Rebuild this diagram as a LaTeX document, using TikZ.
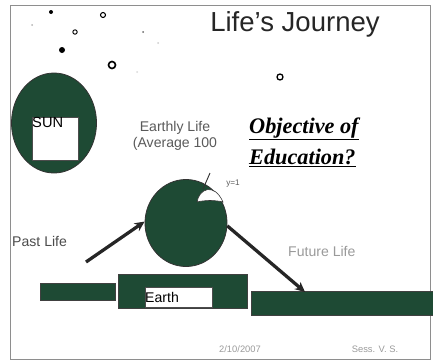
\documentclass[tikz,border=0pt]{standalone}
\usepackage{fontspec}
\setmainfont{Liberation Serif}
\setsansfont{Liberation Sans}
\usetikzlibrary{arrows.meta,positioning,shapes.geometric}
\definecolor{forest}{HTML}{1E4A34}
\definecolor{frameline}{HTML}{8E8E8E}
\definecolor{softgray}{HTML}{5A5A5A}
\definecolor{paletext}{HTML}{9A9A9A}
\newcommand\px{0.03cm}
\tikzset{
  bar/.style={rectangle, draw=black!75, line width=0.6pt, fill=forest, inner sep=0pt, anchor=north west},
  whitebox/.style={rectangle, draw=black!70, line width=0.5pt, fill=white, inner sep=0pt, anchor=north west},
  orb/.style={ellipse, draw=black!80, line width=0.7pt, fill=forest, inner sep=0pt},
  caption/.style={font=\sffamily\fontsize{12}{13.5}\selectfont, inner sep=0pt, align=center},
  bigarrow/.style={-{Stealth[length=3mm,width=2.8mm]}, line width=2.8pt, draw=black!85},
  star/.style={draw=black, line width=1.1pt, fill=white},
  dot/.style={fill=black},
}
\begin{document}
\begin{tikzpicture}[x=\px,y=-\px]
  \useasboundingbox (0,0) rectangle (433,363);
  % slide frame
  \draw[frameline,line width=0.6pt] (10,5) rectangle (430,359);
  % title
  \node[font=\sffamily\fontsize{23.5}{26}\selectfont,anchor=base,text=black!85,inner sep=0pt](title) at (295,31){Life's Journey};
  % stars
  \fill[dot] (51,12) circle (2);
  \draw[star,line width=0.9pt] (103,15) circle (2.5);
  \fill[black!30] (32,25) circle (1);
  \draw[star,line width=0.8pt] (75,32) circle (2.2);
  \fill[black!60] (143,32) circle (1);
  \fill[black!20] (158,43) circle (1);
  \fill[dot] (62,50) circle (3);
  \draw[star,line width=1.4pt] (112,65) circle (3.5);
  \fill[black!15] (137,72) circle (1);
  \draw[star] (280,77) circle (3);
  % sun
  \node[orb,minimum width=85*\px,minimum height=100*\px](sun) at (54,123){};
  \node[whitebox,minimum width=46*\px,minimum height=43*\px,
        label={[anchor=north west,inner sep=0pt,font=\sffamily\fontsize{12.5}{14}\selectfont]north west:SUN}](sunbox) at (32,117){};
  % earthly life
  \node[caption,text=softgray,anchor=base](earthly) at (175,147){Earthly Life\\(Average 100};
  % objective
  \node[font=\fontsize{19}{22}\selectfont\bfseries\itshape,anchor=base west,inner sep=0pt](obj) at (249,133){\underline{Objective of}};
  \node[font=\fontsize{19}{22}\selectfont\bfseries\itshape,anchor=base west,inner sep=0pt](edu) at (249,164){\underline{Education?}};
  % earth globe
  \node[orb,minimum width=82*\px,minimum height=87*\px](earth) at (186,223){};
  \filldraw[fill=white,draw=black!80,line width=0.5pt] (197,202) .. controls (199,189) and (214,182) .. (223,202) .. controls (215,200) and (205,200) .. cycle;
  \coordinate (tickA) at (210,173);
  \coordinate (tickB) at (203,189);
  \draw[black!80,line width=0.8pt] (tickA) -- (tickB);
  \node[font=\sffamily\fontsize{7}{8}\selectfont,text=softgray,inner sep=0pt](yone) at (233,184){y=1};
  % side labels
  \node[caption,text=black!70,anchor=base west](past) at (12,246){Past Life};
  \node[caption,text=paletext,anchor=base west](future) at (288,256){Future Life};
  % ground bars
  \node[bar,minimum width=75*\px,minimum height=17*\px](pastbar) at (40,283){};
  \node[bar,minimum width=129*\px,minimum height=34*\px](earthbar) at (118,274){};
  \node[whitebox,minimum width=67*\px,minimum height=20*\px,
        label={[anchor=west,inner sep=0pt,font=\sffamily\fontsize{12}{14}\selectfont]west:Earth}](earthtag) at (145,287){};
  \node[bar,minimum width=182*\px,minimum height=24*\px](futurebar) at (251,291){};
  % journey arrows
  \coordinate (pastTail) at (86,262);
  \coordinate (futureTip) at (305,292);
  \draw[bigarrow] (pastTail) -- (earth.178);
  \draw[bigarrow] (earth.-4) -- (futureTip);
  % footer
  \node[font=\sffamily\fontsize{8}{9}\selectfont,text=paletext,anchor=base](date) at (240,352){2/10/2007};
  \node[font=\sffamily\fontsize{8}{9}\selectfont,text=paletext,anchor=base](sign) at (375,352){Sess. V. S.};
\end{tikzpicture}
\end{document}
